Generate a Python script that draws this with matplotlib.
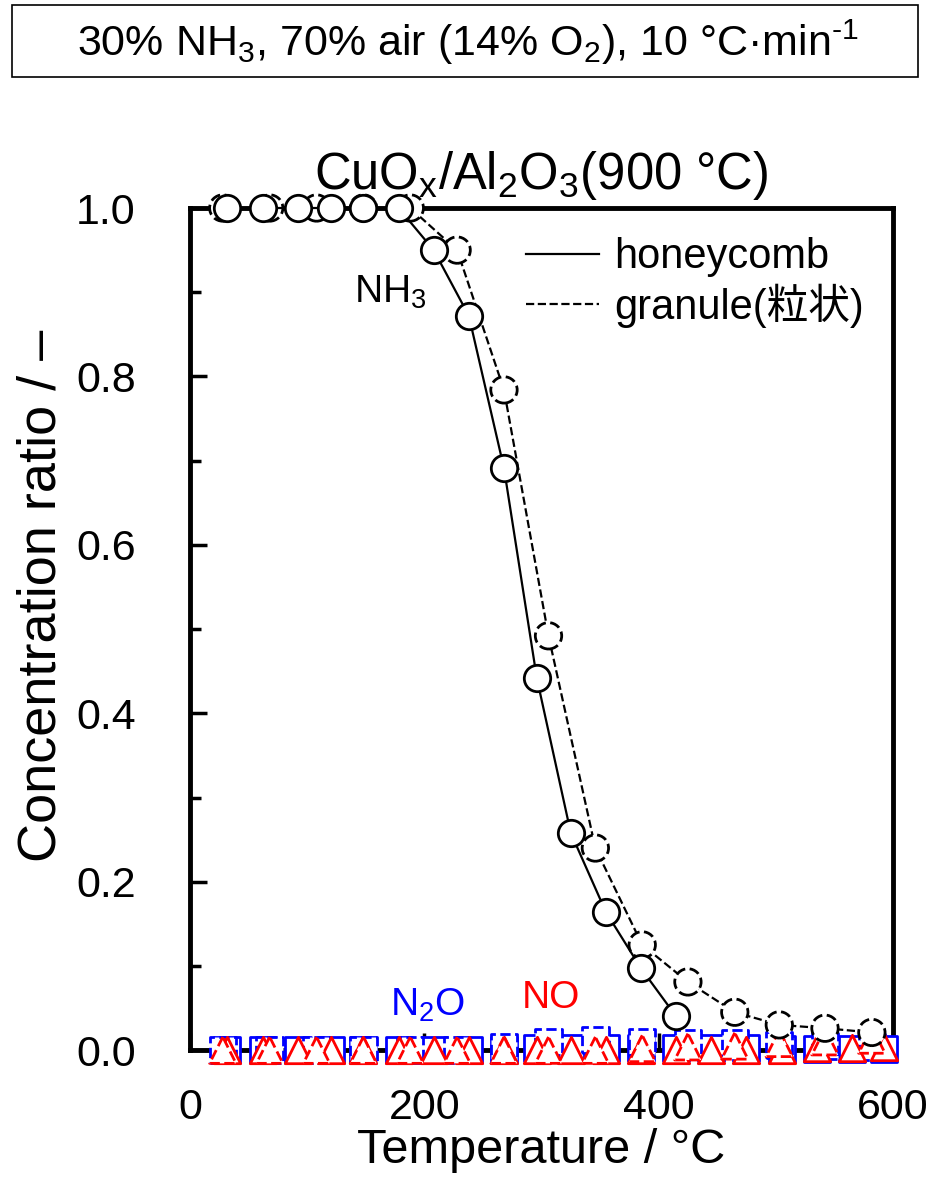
import numpy as np
import matplotlib
matplotlib.use('Agg')
import matplotlib.pyplot as plt
from matplotlib.patches import Rectangle

plt.rcParams['font.family'] = ['Liberation Sans', 'Noto Sans CJK JP', 'DejaVu Sans']
plt.rcParams['mathtext.fontset'] = 'custom'
plt.rcParams['mathtext.rm'] = 'Liberation Sans'
plt.rcParams['mathtext.default'] = 'regular'

# honeycomb data
t_hc = [32, 62, 92, 120, 148, 178, 208, 238, 268, 296, 325, 355, 385, 415]
nh3_hc = [1.0, 1.0, 1.0, 1.0, 1.0, 1.0, 0.95, 0.872, 0.691, 0.442, 0.258, 0.164, 0.097, 0.040]
t_hc_gas = [32, 62, 92, 120, 148, 178, 208, 238, 268, 296, 325, 355, 385, 415, 445, 475, 505, 535, 565, 592]
n2o_hc = [0.0, 0.0, 0.0, 0.0, 0.0, 0.0, 0.0, 0.0, 0.0, 0.002, 0.003, 0.003, 0.002, 0.002, 0.002, 0.002, 0.001, 0.001, 0.001, 0.001]
no_hc = [0.0, 0.0, 0.0, 0.0, 0.0, 0.0, 0.0, 0.0, 0.0, 0.0, 0.0, 0.0, 0.0, 0.0, 0.0, 0.0, 0.0, 0.002, 0.003, 0.004]

# granule data
t_gr = [28, 68, 108, 148, 188, 228, 268, 306, 346, 386, 425, 465, 503, 542, 582]
nh3_gr = [1.0, 1.0, 1.0, 1.0, 1.0, 0.95, 0.784, 0.492, 0.240, 0.125, 0.081, 0.045, 0.030, 0.026, 0.021]
n2o_gr = [0.0, 0.0, 0.0, 0.0, 0.0, 0.0, 0.004, 0.010, 0.012, 0.010, 0.008, 0.008, 0.006, 0.005, 0.004]
no_gr = [0.0, 0.0, 0.0, 0.0, 0.0, 0.0, 0.0, 0.0, 0.0, 0.002, 0.004, 0.005, 0.008, 0.010, 0.012]

fig = plt.figure(figsize=(9.36, 11.92), dpi=100)
ax = fig.add_axes([0.203, 0.119, 0.751, 0.7065])

ms = 19
s = ms ** 2
mew = 2
# N2O and NO (solid edge = honeycomb, dashed edge = granule)
ax.scatter(t_hc_gas, n2o_hc, marker='s', s=s, facecolors='white', edgecolors='blue', linewidths=mew,
           clip_on=False, zorder=3)
ax.scatter(t_gr, n2o_gr, marker='s', s=s, facecolors='white', edgecolors='blue', linewidths=mew,
           linestyles='--', clip_on=False, zorder=3)
ax.scatter(t_hc_gas, no_hc, marker='^', s=s, facecolors='white', edgecolors='red', linewidths=mew,
           clip_on=False, zorder=4)
ax.scatter(t_gr, no_gr, marker='^', s=s, facecolors='white', edgecolors='red', linewidths=mew,
           linestyles='--', clip_on=False, zorder=4)

# NH3
ax.plot(t_gr, nh3_gr, ls='--', color='black', lw=1.6, clip_on=False, zorder=5)
ax.scatter(t_gr, nh3_gr, marker='o', s=s, facecolors='white', edgecolors='black', linewidths=mew,
           linestyles='--', clip_on=False, zorder=5.5)
ax.plot(t_hc, nh3_hc, ls='-', color='black', lw=1.6, clip_on=False, zorder=6)
ax.scatter(t_hc, nh3_hc, marker='o', s=s, facecolors='white', edgecolors='black', linewidths=mew,
           clip_on=False, zorder=6.5)

ax.set_xlim(0, 600)
ax.set_ylim(0, 1.0)
ax.set_xticks([0, 200, 400, 600])
ax.set_yticks(np.arange(0, 1.01, 0.2))
ax.set_yticks(np.arange(0.1, 1.0, 0.2), minor=True)
ax.yaxis.set_major_formatter(plt.FormatStrFormatter('%.1f'))
ax.tick_params(axis='both', which='major', direction='in', length=12, width=2.5, labelsize=31)
ax.tick_params(axis='y', which='major', pad=39)
ax.tick_params(axis='x', which='major', pad=27)
ax.tick_params(axis='y', which='minor', direction='in', length=8, width=2.5)
for sp in ax.spines.values():
    sp.set_linewidth(3.5)
    sp.set_zorder(2)

ax.set_xlabel('Temperature / °C', fontsize=35, labelpad=0)
ax.set_ylabel('Concentration ratio / –', fontsize=39)
ax.yaxis.set_label_coords(-0.176, 0.54)
ax.set_title('CuO$_x$/Al$_2$O$_3$(900 °C)', fontsize=36.5, pad=14)

ax.text(171, 0.9, 'NH$_3$', fontsize=28, ha='center', va='center')
ax.text(203, 0.053, 'N$_2$O', fontsize=28, color='blue', ha='center', va='center')
ax.text(308, 0.062, 'NO', fontsize=28, color='red', ha='center', va='center')

ax.legend([plt.Line2D([], [], color='black', lw=1.6, ls='-'),
           plt.Line2D([], [], color='black', lw=1.6, ls='--')],
          ['honeycomb', 'granule(粒状)'], loc='upper right', frameon=False, fontsize=30,
          handlelength=1.75, handletextpad=0.36, labelspacing=0.15, borderaxespad=0.3)

# header box
fig.patches.append(Rectangle((12 / 936, 1 - 77 / 1192), 906 / 936, 72 / 1192, transform=fig.transFigure,
                             fill=False, edgecolor='black', lw=1.2))
fig.text(468 / 936, 1 - 42 / 1192, r'30% NH$_3$, 70% air (14% O$_2$), 10 °C·min$^{\text{-}1}$',
         fontsize=31, ha='center', va='center')

fig.savefig('out.png', dpi=100)
